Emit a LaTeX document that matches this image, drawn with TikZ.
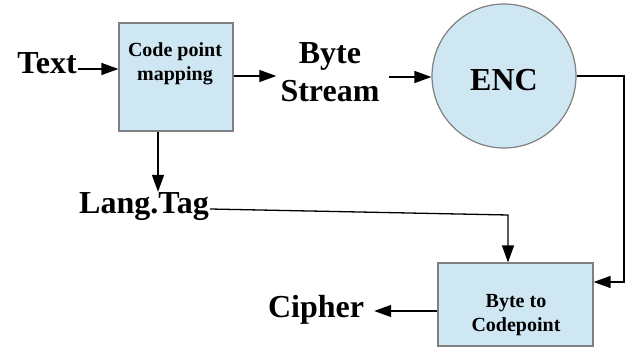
\documentclass[tikz,border=0pt]{standalone}
\usepackage{fontspec}
\setmainfont{Liberation Serif}
\usetikzlibrary{arrows.meta}
\definecolor{boxfill}{RGB}{207,230,243}
\definecolor{boxline}{RGB}{128,128,128}
\begin{document}
\begin{tikzpicture}[x=1pt,y=-1pt,
  lbl/.style={font=\fontsize{32}{38}\selectfont\bfseries, inner sep=1pt, align=center},
  small/.style={font=\fontsize{20}{24}\selectfont\bfseries, inner sep=0pt, align=center},
  blk/.style={draw=boxline, fill=boxfill, line width=1.2pt, inner sep=0pt},
  arr/.style={line width=1.3pt, -{Triangle[length=17pt,width=12pt]}},
  ln/.style={line width=1.3pt}]
\useasboundingbox (0,0) rectangle (629,347);
% nodes
\node[lbl, anchor=base] (txt) at (47,74) {Text};
\node[blk, minimum width=114pt, minimum height=108pt] (b1) at (176,77) {};
\node[small] (b1t) at (175,64) {Code point\\mapping};
\node[lbl] (bs) at (330,72) {Byte\\Stream};
\node[blk, circle, minimum size=144pt] (enc) at (504,76) {};
\node[lbl] (enct) at (504,80) {ENC};
\node[lbl, anchor=base] (lang) at (144,214) {Lang.Tag};
\node[blk, minimum width=155pt, minimum height=83pt] (b2) at (515.5,304.5) {};
\node[small] (b2t) at (516,315) {Byte to\\Codepoint};
\node[lbl, anchor=base] (ciph) at (316,317) {Cipher};
\coordinate (r1) at (624,282);
\coordinate (c2) at (508,215);
% connectors
\draw[arr] (txt.east |- 0,69) -- (b1.west |- 0,69);
\draw[arr, shorten >=3pt] (b1.east |- 0,76) -- (bs.west |- 0,76);
\draw[arr, shorten <=8pt] (bs.east |- 0,77) -- (enc.west |- 0,77);
\draw[arr] (enc.east) -| (r1) -- (b2.east |- r1);
\draw[arr] (b1.south -| 158,0) -- (lang.north -| 158,0);
\draw[arr] (lang.east |- 0,209) -- (c2) -- (b2.north -| c2);
\draw[arr, shorten >=9pt] (b2.west |- 0,311) -- (ciph.east |- 0,311);
\end{tikzpicture}
\end{document}
